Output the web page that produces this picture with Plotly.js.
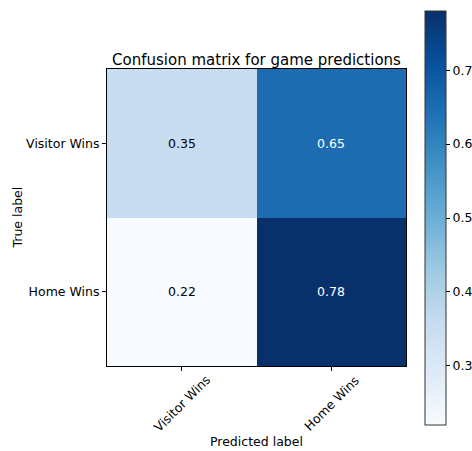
<!DOCTYPE html>
<html>
<head>
<meta charset="utf-8">
<script src="https://cdn.plot.ly/plotly-3.0.1.min.js"></script>
<style>html,body{margin:0;padding:0;background:#fff;}#chart{width:472px;height:451px;}</style>
</head>
<body>
<div id="chart"></div>
<script>
const predictedLabels = ['Visitor Wins', 'Home Wins'];
const trueLabels = ['Visitor Wins', 'Home Wins'];
const matrixValues = [
  [0.35, 0.65],
  [0.22, 0.78]
];
const colorbarTicks = [0.3, 0.4, 0.5, 0.6, 0.7];
const chartTitle = 'Confusion matrix for game predictions';
const xTitle = 'Predicted label';
const yTitle = 'True label';

const blues = ['#f7fbff','#deebf7','#c6dbef','#9ecae1','#6baed6','#4292c6','#2171b5','#08519c','#08306b'];
const colorscale = blues.map((c, i) => [i / (blues.length - 1), c]);

const flat = matrixValues.flat();
const zmin = Math.min(...flat), zmax = Math.max(...flat);
const thresh = (zmin + zmax) / 2;
const FONT = 'DejaVu Sans, sans-serif';
const FS = 12.5;

const annotations = [];
trueLabels.forEach((t, i) => {
  predictedLabels.forEach((p, j) => {
    const v = matrixValues[i][j];
    annotations.push({
      x: p, y: t, xref: 'x', yref: 'y', text: v.toFixed(2), showarrow: false,
      font: {family: FONT, size: FS, color: v > thresh ? '#ffffff' : '#000000'}
    });
  });
});
predictedLabels.forEach(p => {
  annotations.push({
    x: p, xref: 'x', y: 0, yref: 'paper', yanchor: 'middle', xanchor: 'center',
    yshift: -37, textangle: -45, text: p, showarrow: false,
    font: {family: FONT, size: FS, color: '#000'}
  });
});
annotations.push({
  x: 0.5, xref: 'paper', y: 0, yref: 'paper', yanchor: 'middle', yshift: -75,
  text: xTitle, showarrow: false, font: {family: FONT, size: FS, color: '#000'}
});
annotations.push({
  x: 0, xref: 'paper', xanchor: 'center', xshift: -90, y: 0.5, yref: 'paper',
  textangle: -90, text: yTitle, showarrow: false, font: {family: FONT, size: FS, color: '#000'}
});

const trace = {
  type: 'heatmap',
  x: predictedLabels,
  y: trueLabels,
  z: matrixValues,
  zmin: zmin, zmax: zmax,
  colorscale: colorscale,
  colorbar: {
    x: 425 / 472, xanchor: 'left', xref: 'container',
    y: (366 - 218) / 297, yanchor: 'middle', yref: 'paper',
    thickness: 21, thicknessmode: 'pixels',
    len: 414, lenmode: 'pixels',
    xpad: 0, ypad: 0,
    outlinewidth: 1, outlinecolor: '#333',
    tickvals: colorbarTicks, ticktext: colorbarTicks.map(v => v.toFixed(1)),
    ticks: 'outside', ticklen: 4, tickcolor: '#000',
    tickfont: {family: FONT, size: FS, color: '#000'}
  }
};

const layout = {
  width: 472, height: 451,
  margin: {l: 107, r: 66, t: 69, b: 85},
  paper_bgcolor: '#fff', plot_bgcolor: '#fff',
  title: {text: chartTitle, font: {family: FONT, size: 15, color: '#000'}, x: 0.5, xref: 'paper', xanchor: 'center', y: 1, yref: 'paper', yanchor: 'bottom', pad: {b: 4}},
  xaxis: {
    showticklabels: false, ticks: 'outside', ticklen: 4, tickcolor: '#000',
    showline: true, linecolor: '#000', linewidth: 1, mirror: true,
    showgrid: false, zeroline: false, fixedrange: true
  },
  yaxis: {
    autorange: 'reversed', ticks: 'outside', ticklen: 4, tickcolor: '#000',
    showline: true, linecolor: '#000', linewidth: 1, mirror: true,
    showgrid: false, zeroline: false, fixedrange: true,
    tickfont: {family: FONT, size: FS, color: '#000'}
  },
  annotations: annotations,
  showlegend: false
};

Plotly.newPlot('chart', [trace], layout, {displayModeBar: false, staticPlot: true});
</script>
</body>
</html>
